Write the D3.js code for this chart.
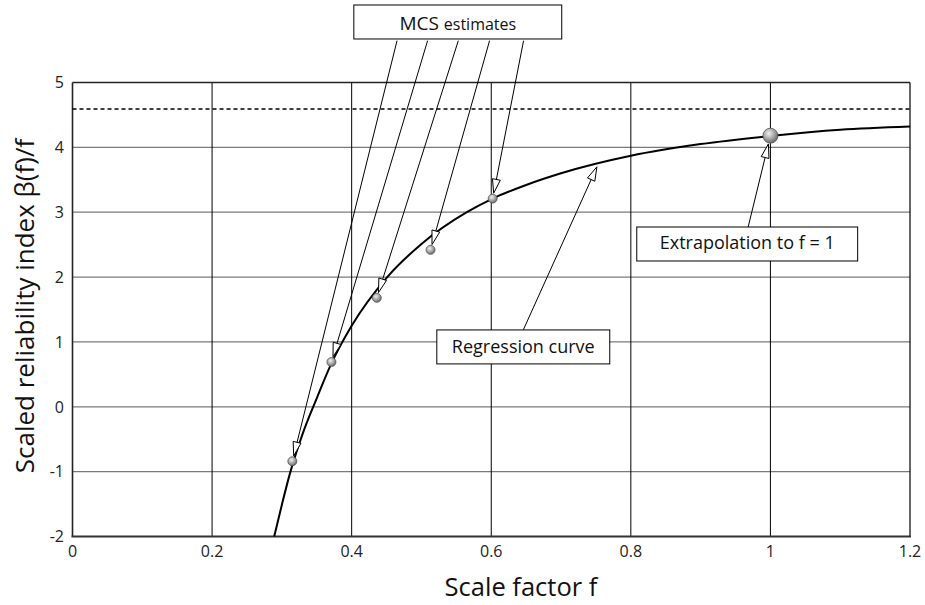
<!DOCTYPE html>
<html>
<head>
<meta charset="utf-8">
<script src="https://cdn.jsdelivr.net/npm/d3@7"></script>
<style>
  html, body { margin: 0; padding: 0; background: #fff; }
  svg { display: block; font-family: "Open Sans", "Noto Sans", sans-serif; }
</style>
</head>
<body>
<svg id="chart" width="925" height="605"></svg>
<script>
// ---------- data ----------
const xTicks = [0, 0.2, 0.4, 0.6, 0.8, 1, 1.2];
const yTicks = [-2, -1, 0, 1, 2, 3, 4, 5];
const xTickLabels = ["0", "0.2", "0.4", "0.6", "0.8", "1", "1.2"];
const yTickLabels = ["-2", "-1", "0", "1", "2", "3", "4", "5"];

// regression curve
const curveF = [0.289, 0.300, 0.311, 0.330, 0.348, 0.371, 0.400, 0.451, 0.500, 0.565, 0.602, 0.650, 0.700, 0.800, 0.900, 1.000, 1.100, 1.200];
const curveV = [-2.00, -1.51, -1.05, -0.41, 0.08, 0.67, 1.25, 2.00, 2.51, 3.00, 3.21, 3.42, 3.60, 3.87, 4.05, 4.175, 4.27, 4.32];

// MCS estimates
const mcsF = [0.315, 0.371, 0.436, 0.513, 0.602];
const mcsV = [-0.84, 0.69, 1.68, 2.42, 3.21];

// extrapolated point at f = 1
const extrapF = [1.0];
const extrapV = [4.18];

// dashed reference level
const refLevel = 4.59;

// ---------- layout ----------
const svg = d3.select("#chart");
const x = d3.scaleLinear().domain([0, 1.2]).range([72.5, 910]);
const y = d3.scaleLinear().domain([-2, 5]).range([536.5, 82.5]);

// gradient for points
const defs = svg.append("defs");
const grad = defs.append("radialGradient").attr("id", "ball")
  .attr("cx", "40%").attr("cy", "35%").attr("r", "65%");
grad.append("stop").attr("offset", "0%").attr("stop-color", "#f0f0f0");
grad.append("stop").attr("offset", "55%").attr("stop-color", "#a8a8a8");
grad.append("stop").attr("offset", "100%").attr("stop-color", "#6a6a6a");

// horizontal grid (gray)
svg.append("g").selectAll("line")
  .data(yTicks.filter(d => d > -2 && d < 5))
  .join("line")
  .attr("x1", x(0)).attr("x2", x(1.2))
  .attr("y1", d => y(d)).attr("y2", d => y(d))
  .attr("stroke", "#7a7a7a").attr("stroke-width", 1.3);

// vertical grid (black)
svg.append("g").selectAll("line")
  .data(xTicks.filter(d => d > 0 && d < 1.2))
  .join("line")
  .attr("x1", d => x(d)).attr("x2", d => x(d))
  .attr("y1", y(5)).attr("y2", y(-2))
  .attr("stroke", "#000").attr("stroke-width", 1);

// frame
svg.append("line").attr("x1", x(0)).attr("x2", x(1.2)).attr("y1", y(5)).attr("y2", y(5))
  .attr("stroke", "#222").attr("stroke-width", 1.5);
svg.append("line").attr("x1", x(1.2)).attr("x2", x(1.2)).attr("y1", y(5)).attr("y2", y(-2))
  .attr("stroke", "#000").attr("stroke-width", 1.2);
svg.append("line").attr("x1", x(0)).attr("x2", x(0)).attr("y1", y(5)).attr("y2", y(-2))
  .attr("stroke", "#222").attr("stroke-width", 1.6);
svg.append("line").attr("x1", x(0) - 1).attr("x2", x(1.2) + 1).attr("y1", y(-2)).attr("y2", y(-2))
  .attr("stroke", "#333").attr("stroke-width", 2);

// dashed reference line
svg.append("line").attr("x1", x(0)).attr("x2", x(1.2))
  .attr("y1", y(refLevel)).attr("y2", y(refLevel))
  .attr("stroke", "#000").attr("stroke-width", 1.5)
  .attr("stroke-dasharray", "4,3");

// tick labels
svg.append("g").selectAll("text")
  .data(yTicks)
  .join("text")
  .attr("x", 64).attr("y", d => y(d))
  .attr("dy", "0.36em")
  .attr("text-anchor", "end")
  .attr("font-size", 16)
  .attr("fill", "#222")
  .text((d, i) => yTickLabels[i]);

svg.append("g").selectAll("text")
  .data(xTicks)
  .join("text")
  .attr("x", d => x(d)).attr("y", 557)
  .attr("text-anchor", "middle")
  .attr("font-size", 16)
  .attr("fill", "#222")
  .text((d, i) => xTickLabels[i]);

// axis titles
svg.append("text")
  .attr("x", 521).attr("y", 596)
  .attr("text-anchor", "middle")
  .attr("font-size", 25.5)
  .attr("fill", "#111")
  .text("Scale factor f");

svg.append("text")
  .attr("transform", "translate(34,306) rotate(-90)")
  .attr("text-anchor", "middle")
  .attr("font-size", 26)
  .attr("fill", "#111")
  .text("Scaled reliability index β(f)/f");

// regression curve
const curvePts = curveF.map((f, i) => [f, curveV[i]]);
svg.append("path")
  .datum(curvePts)
  .attr("d", d3.line().x(d => x(d[0])).y(d => y(d[1])).curve(d3.curveMonotoneX))
  .attr("fill", "none").attr("stroke", "#000").attr("stroke-width", 2);

// ---------- annotations ----------
function arrow(g, sx, sy, tx, ty) {
  const dx = tx - sx, dy = ty - sy, L = Math.hypot(dx, dy);
  const ux = dx / L, uy = dy / L;
  const hl = 14, hw = 4;
  const bx = tx - ux * hl, by = ty - uy * hl;
  g.append("line").attr("x1", sx).attr("y1", sy).attr("x2", bx).attr("y2", by)
    .attr("stroke", "#000").attr("stroke-width", 1);
  g.append("path")
    .attr("d", `M${tx},${ty}L${bx - uy * hw},${by + ux * hw}L${bx + uy * hw},${by - ux * hw}Z`)
    .attr("fill", "#fff").attr("stroke", "#000").attr("stroke-width", 1);
}
function tipAt(sx, sy, cx, cy, r) {
  const dx = cx - sx, dy = cy - sy, L = Math.hypot(dx, dy);
  return [cx - dx / L * r, cy - dy / L * r];
}

const ann = svg.append("g");

// MCS arrows
const mcsStartF = [0.465, 0.5088, 0.5528, 0.5976, 0.6463];
const mcsStartV = 5.645;
mcsF.forEach((f, i) => {
  const sx = x(mcsStartF[i]), sy = y(mcsStartV);
  const [tx, ty] = tipAt(sx, sy, x(f), y(mcsV[i]), 5.5);
  arrow(ann, sx, sy, tx, ty);
});

// regression arrow
{
  const sx = x(0.6459), sy = y(1.185);
  arrow(ann, sx, sy, x(0.7514), y(3.70));
}
// extrapolation arrow
{
  const sx = x(0.9681), sy = y(2.772);
  const [tx, ty] = tipAt(sx, sy, x(extrapF[0]), y(extrapV[0]), 8.5);
  arrow(ann, sx, sy, tx, ty);
}

// points
svg.append("g").selectAll("circle")
  .data(mcsF.map((f, i) => [f, mcsV[i]]))
  .join("circle")
  .attr("cx", d => x(d[0])).attr("cy", d => y(d[1])).attr("r", 4.5)
  .attr("fill", "url(#ball)").attr("stroke", "#555").attr("stroke-width", 0.8);

svg.append("g").selectAll("circle")
  .data(extrapF.map((f, i) => [f, extrapV[i]]))
  .join("circle")
  .attr("cx", d => x(d[0])).attr("cy", d => y(d[1])).attr("r", 7.5)
  .attr("fill", "url(#ball)").attr("stroke", "#555").attr("stroke-width", 0.8);

// label boxes
function box(x0, x1, y0, y1) {
  svg.append("rect")
    .attr("x", x(x0)).attr("y", y(y0))
    .attr("width", x(x1) - x(x0)).attr("height", y(y1) - y(y0))
    .attr("fill", "#fff").attr("stroke", "#000").attr("stroke-width", 1);
}

// MCS estimates box
box(0.4031, 0.7010, 6.195, 5.671);
const mcsText = svg.append("text")
  .attr("x", (x(0.4031) + x(0.7010)) / 2).attr("y", 29.5)
  .attr("text-anchor", "middle").attr("fill", "#111");
mcsText.append("tspan").attr("font-size", 19).text("MCS ");
mcsText.append("tspan").attr("font-size", 16).text("estimates");

// Regression curve box
box(0.5220, 0.7698, 1.185, 0.661);
svg.append("text")
  .attr("x", (x(0.5220) + x(0.7698)) / 2).attr("y", 352.5)
  .attr("text-anchor", "middle").attr("font-size", 18).attr("fill", "#111")
  .text("Regression curve");

// Extrapolation box
box(0.8085, 1.1250, 2.772, 2.248);
svg.append("text")
  .attr("x", (x(0.8085) + x(1.1250)) / 2).attr("y", 248.5)
  .attr("text-anchor", "middle").attr("font-size", 18).attr("fill", "#111")
  .text("Extrapolation to f = 1");
</script>
</body>
</html>
